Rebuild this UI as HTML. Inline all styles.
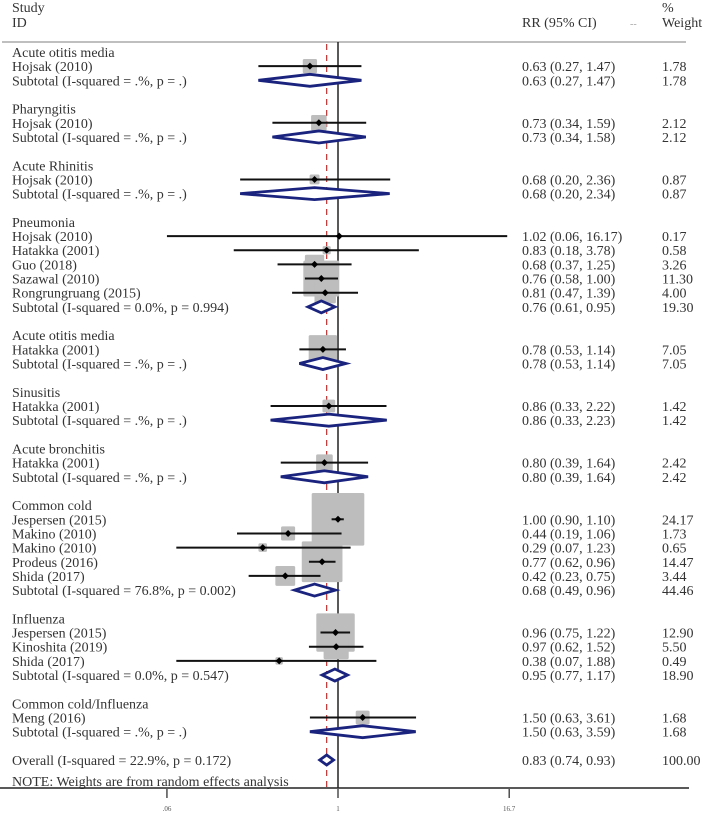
<!DOCTYPE html>
<html><head><meta charset="utf-8"><style>
html,body{margin:0;padding:0;background:#fff;}
svg{display:block;font-family:"Liberation Serif",serif;}
</style></head><body>
<svg id="chart" width="709" height="813" viewBox="0 0 709 813" xmlns="http://www.w3.org/2000/svg">
<g fill="#333" font-size="14">
<text x="12" y="12">Study</text>
<text x="12" y="27">ID</text>
<text x="522" y="27">RR (95% CI)</text>
<text x="630" y="27" fill="#aaa" font-size="10">--</text>
<text x="662" y="12">%</text>
<text x="662" y="27">Weight</text>
</g>
<line x1="2" y1="42" x2="686" y2="42" stroke="#aaa" stroke-width="1.5"/>
<g id="plot"></g>
</svg>
<script>
const labels=["Acute otitis media","Hojsak (2010)","Subtotal  (I-squared = .%, p = .)",null,"Pharyngitis","Hojsak (2010)","Subtotal  (I-squared = .%, p = .)",null,"Acute Rhinitis","Hojsak (2010)","Subtotal  (I-squared = .%, p = .)",null,"Pneumonia","Hojsak (2010)","Hatakka (2001)","Guo (2018)","Sazawal (2010)","Rongrungruang (2015)","Subtotal  (I-squared = 0.0%, p = 0.994)",null,"Acute otitis media","Hatakka (2001)","Subtotal  (I-squared = .%, p = .)",null,"Sinusitis","Hatakka (2001)","Subtotal  (I-squared = .%, p = .)",null,"Acute bronchitis","Hatakka (2001)","Subtotal  (I-squared = .%, p = .)",null,"Common cold","Jespersen (2015)","Makino (2010)","Makino (2010)","Prodeus (2016)","Shida (2017)","Subtotal  (I-squared = 76.8%, p = 0.002)",null,"Influenza","Jespersen (2015)","Kinoshita (2019)","Shida (2017)","Subtotal  (I-squared = 0.0%, p = 0.547)",null,"Common cold/Influenza","Meng (2016)","Subtotal  (I-squared = .%, p = .)",null,"Overall  (I-squared = 22.9%, p = 0.172)"];
const kinds=["h","s","d",null,"h","s","d",null,"h","s","d",null,"h","s","s","s","s","s","d",null,"h","s","d",null,"h","s","d",null,"h","s","d",null,"h","s","s","s","s","s","d",null,"h","s","s","s","d",null,"h","s","d",null,"o"];
const rr=[null,0.63,0.63,null,null,0.73,0.73,null,null,0.68,0.68,null,null,1.02,0.83,0.68,0.76,0.81,0.76,null,null,0.78,0.78,null,null,0.86,0.86,null,null,0.80,0.80,null,null,1.00,0.44,0.29,0.77,0.42,0.68,null,null,0.96,0.97,0.38,0.95,null,null,1.50,1.50,null,0.83];
const lo=[null,0.27,0.27,null,null,0.34,0.34,null,null,0.20,0.20,null,null,0.06,0.18,0.37,0.58,0.47,0.61,null,null,0.53,0.53,null,null,0.33,0.33,null,null,0.39,0.39,null,null,0.90,0.19,0.07,0.62,0.23,0.49,null,null,0.75,0.62,0.07,0.77,null,null,0.63,0.63,null,0.74];
const hi=[null,1.47,1.47,null,null,1.59,1.58,null,null,2.36,2.34,null,null,16.17,3.78,1.25,1.00,1.39,0.95,null,null,1.14,1.14,null,null,2.22,2.23,null,null,1.64,1.64,null,null,1.10,1.06,1.23,0.96,0.75,0.96,null,null,1.22,1.52,1.88,1.17,null,null,3.61,3.59,null,0.93];
const weights=[null,1.78,1.78,null,null,2.12,2.12,null,null,0.87,0.87,null,null,0.17,0.58,3.26,11.30,4.00,19.30,null,null,7.05,7.05,null,null,1.42,1.42,null,null,2.42,2.42,null,null,24.17,1.73,0.65,14.47,3.44,44.46,null,null,12.90,5.50,0.49,18.90,null,null,1.68,1.68,null,100.00];
const tickVals=[0.06,1,16.7];
const tickLabels=[".06","1","16.7"];
const axisMin=0.0599;

const NS="http://www.w3.org/2000/svg";
const g=document.getElementById('plot');
const X0=338, PX=60.8;
function xs(v){return X0+PX*Math.log(Math.max(v,axisMin));}
function ys(i){return 52+i*14.16;}
function mk(tag,attrs,parent){const e=document.createElementNS(NS,tag);for(const k in attrs)e.setAttribute(k,attrs[k]);(parent||g).appendChild(e);return e;}
const f2=v=>v.toFixed(2);

let l=mk('line',{x1:X0,y1:42,x2:X0,y2:788,stroke:'#222','stroke-width':1.5});


const ov=rr[rr.length-1];
l=mk('line',{x1:xs(ov),y1:44,x2:xs(ov),y2:788,stroke:'#c03030','stroke-width':1.2,'stroke-dasharray':'6,5'});



for(let i=0;i<labels.length;i++){
  if(kinds[i]!=='s')continue;
  const s=Math.max(4,10.7*Math.sqrt(weights[i]));
  const r=mk('rect',{x:xs(rr[i])-s/2,y:ys(i)-s/2,width:s,height:s,fill:'#bdbdbd',rx:1.5});
  
  
}
for(let i=0;i<labels.length;i++){
  const k=kinds[i]; if(!k)continue;
  const y=ys(i);
  const t=mk('text',{x:12,y:y+5,'font-size':14,fill:'#333'});
  t.textContent=labels[i];
  
  
  if(k==='h')continue;
  const t2=mk('text',{x:522,y:y+5,'font-size':14,fill:'#333'});
  t2.textContent=f2(rr[i])+' ('+f2(lo[i])+', '+f2(hi[i])+')';
  
  
  const t3=mk('text',{x:662,y:y+5,'font-size':14,fill:'#333'});
  t3.textContent=f2(weights[i]);
  
  
  if(k==='s'){
    const x1=xs(lo[i]),x2=xs(hi[i]);
    const ln=mk('line',{x1:x1,y1:y,x2:x2,y2:y,stroke:'#111','stroke-width':2});
    
    
    if(lo[i]<axisMin){
      const a=mk('polyline',{points:(x1+5)+','+(y-4)+' '+x1+','+y+' '+(x1+5)+','+(y+4),fill:'none',stroke:'#111','stroke-width':2});
      
      
    }
    const cx=xs(rr[i]);
    const p=mk('polygon',{points:(cx-3.5)+','+y+' '+cx+','+(y-3.5)+' '+(cx+3.5)+','+y+' '+cx+','+(y+3.5),fill:'#000'});
    
    
  } else {
    const x1=xs(lo[i]),x2=xs(hi[i]),cx=xs(rr[i]),h=k==='o'?5:6;
    const d=mk('polygon',{points:x1+','+y+' '+cx+','+(y-h)+' '+x2+','+y+' '+cx+','+(y+h),fill:'#fff',stroke:'#1a237e','stroke-width':2.8});
    
    
  }
}
let n=mk('text',{x:12,y:786,'font-size':14,fill:'#333'});
n.textContent='NOTE: Weights are from random effects analysis';


l=mk('line',{x1:0,y1:788,x2:689,y2:788,stroke:'#222','stroke-width':1.5});


for(let j=0;j<tickVals.length;j++){
  const x=xs(tickVals[j]);
  const tk=mk('line',{x1:x,y1:789,x2:x,y2:798,stroke:'#222','stroke-width':1.2});
  
  
  const tl=mk('text',{x:x,y:811,'font-size':7,fill:'#555','text-anchor':'middle'});
  tl.textContent=tickLabels[j];
  
  
}
</script>
</body></html>
